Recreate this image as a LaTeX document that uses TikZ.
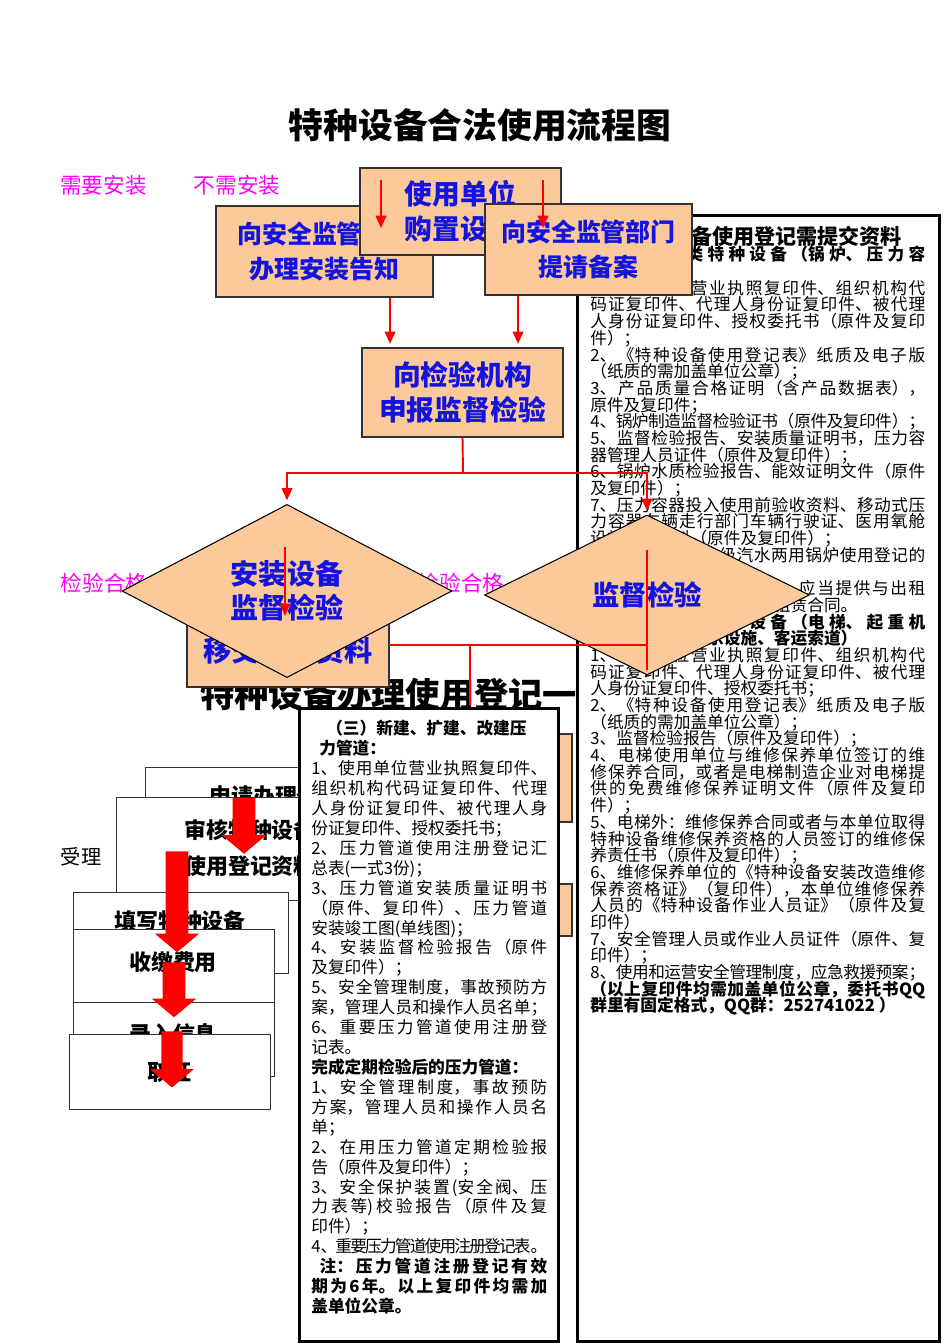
\documentclass[tikz,border=0pt]{standalone}
\usepackage{fontspec}
\setmainfont{Noto Sans CJK SC}
\usepackage{tikz}
\usetikzlibrary{shapes.geometric, shapes.arrows, arrows.meta, positioning}

\XeTeXlinebreaklocale "zh"
\XeTeXlinebreakskip=0pt plus 3pt minus 1.5pt

\definecolor{boxorange}{RGB}{252,202,154}
\definecolor{boxblue}{RGB}{20,20,225}
\definecolor{tagpink}{RGB}{255,0,255}
\definecolor{flowred}{RGB}{255,0,0}
\definecolor{edgegray}{RGB}{50,50,50}

% one line of a panel: justified, ragged, indented
\newcommand{\jl}[1]{{\parfillskip=0pt\noindent#1\par}}
\newcommand{\rl}[1]{{\noindent#1\par}}
\newcommand{\il}[2]{{\noindent\hskip#1#2\par}}
\newcommand{\panelsetup}{\tolerance=10000\hbadness=10000\parskip=0pt\lineskiplimit=-5pt}

\begin{document}
\begin{tikzpicture}[x=0.02cm, y=-0.02cm,
  flowbox/.style={rectangle, draw=edgegray, line width=0.7pt, fill=boxorange, text=boxblue,
    font=\fontsize{15.8}{19.8}\selectfont\bfseries, align=center, inner sep=0pt},
  decision/.style={diamond, draw=black, line width=0.6pt, fill=boxorange, text=boxblue,
    font=\fontsize{16}{19.3}\selectfont\bfseries, align=center, inner sep=0pt},
  tag/.style={text=tagpink, font=\fontsize{12.3}{14}\selectfont, inner sep=0pt},
  infopanel/.style={rectangle, draw=black, line width=1.7pt, fill=white, inner sep=0pt},
  paneltext/.style={anchor=north west, inner sep=0pt},
  stagebox/.style={rectangle, draw=edgegray, line width=0.7pt, fill=white, inner sep=0pt, anchor=north west},
  stagetext/.style={font=\fontsize{12.5}{21}\selectfont\bfseries, align=center, inner sep=0pt},
  flowline/.style={draw=flowred, line width=1.1pt},
  flowarrow/.style={flowline, -{Triangle[length=7pt,width=6pt]}},
  bigarrow/.style={single arrow, fill=flowred, draw=none, rotate=-90, inner xsep=0pt,
    inner ysep=0.22cm, minimum width=0.88cm, single arrow head extend=0.22cm,
    single arrow tip angle=100},
]
  \useasboundingbox (0,0) rectangle (950,1344);
  \fill[white] (0,0) rectangle (950,1344);

  % title
  \node[font=\fontsize{19.8}{24}\selectfont\bfseries, inner sep=0pt] (title) at (480,125) {特种设备合法使用流程图};

  % heading of the lower part (mostly covered)
  \node[font=\fontsize{19.5}{22}\selectfont\bfseries, inner sep=0pt, anchor=west] (lowhead) at (200,695) {特种设备办理使用登记一般流程};

  % right panel: documents to hand in
  \node[infopanel, minimum width=7.24cm, minimum height=22.52cm, anchor=north west] (checklist) at (576,214) {};
  \node[font=\fontsize{12}{12}\selectfont\bfseries, inner sep=0pt] (checktitle) at (765,236) {特种设备使用登记需提交资料};
  \node[paneltext] (checktext) at (590,246) {\vbox{\hsize=6.7cm
    \fontsize{9.5}{9.5}\selectfont\panelsetup
    \jl{\bfseries （一）承压类特种设备（锅炉、压力容}
    \rl{\bfseries 器）：}
    \jl{1、使用单位营业执照复印件、组织机构代}
    \jl{码证复印件、代理人身份证复印件、被代理}
    \jl{人身份证复印件、授权委托书（原件及复印}
    \rl{件）；}
    \jl{2、《特种设备使用登记表》纸质及电子版}
    \rl{（纸质的需加盖单位公章）；}
    \jl{3、产品质量合格证明（含产品数据表），}
    \rl{原件及复印件；}
    \jl{4、锅炉制造监督检验证书（原件及复印件）；}
    \jl{5、监督检验报告、安装质量证明书，压力容}
    \rl{器管理人员证件（原件及复印件）；}
    \jl{6、锅炉水质检验报告、能效证明文件（原件}
    \rl{及复印件）；}
    \jl{7、压力容器投入使用前验收资料、移动式压}
    \jl{力容器车辆走行部门车辆行驶证、医用氧舱}
    \rl{设施验收资料（原件及复印件）；}
    \jl{8、电站锅炉、一级汽水两用锅炉使用登记的}
    \rl{\strut}
    \jl{9、租赁使用的特种设备，应当提供与出租}
    \rl{单位或者个人签订的设备租赁合同。}
    \jl{\bfseries （二）机电类特种设备（电梯、起重机}
    \il{2em}{\bfseries 械、大型游乐设施、客运索道）}
    \jl{1、使用单位营业执照复印件、组织机构代}
    \jl{码证复印件、代理人身份证复印件、被代理}
    \rl{人身份证复印件、授权委托书；}
    \jl{2、《特种设备使用登记表》纸质及电子版}
    \rl{（纸质的需加盖单位公章）；}
    \rl{3、监督检验报告（原件及复印件）；}
    \jl{4、电梯使用单位与维修保养单位签订的维}
    \jl{修保养合同，或者是电梯制造企业对电梯提}
    \jl{供的免费维修保养证明文件（原件及复印}
    \rl{件）；}
    \jl{5、电梯外：维修保养合同或者与本单位取得}
    \jl{特种设备维修保养资格的人员签订的维修保}
    \rl{养责任书（原件及复印件）；}
    \jl{6、维修保养单位的《特种设备安装改造维修}
    \jl{保养资格证》（复印件），本单位维修保养}
    \jl{人员的《特种设备作业人员证》（原件及复}
    \rl{印件）}
    \jl{7、安全管理人员或作业人员证件（原件、复}
    \rl{印件）；}
    \jl{8、使用和运营安全管理制度，应急救援预案；}
    \jl{\bfseries （以上复印件均需加盖单位公章，委托书QQ}
    \rl{\bfseries 群里有固定格式，QQ群：252741022 ）}
  }};

  % upper flow
  \node[flowbox, font=\fontsize{14.2}{20}\selectfont\bfseries, minimum width=4.34cm, minimum height=1.82cm] (notice) at (324.5,251.5) {向安全监管部门\\办理安装告知};
  \node[flowbox, minimum width=4.02cm, minimum height=1.74cm] (buy) at (460.5,211.5) {使用单位\\购置设备};
  \node[flowbox, font=\fontsize{14.2}{20}\selectfont\bfseries, minimum width=4.14cm, minimum height=1.82cm] (filing) at (588.5,249.5) {向安全监管部门\\提请备案};
  \coordinate (buyL0) at (381,180);
  \coordinate (buyL1) at (381,228);
  \coordinate (buyR0) at (543,180);
  \coordinate (buyR1) at (543,228);
  \draw[flowarrow] (buyL0) -- (buyL1);
  \draw[flowarrow] (buyR0) -- (buyR1);

  \node[flowbox, minimum width=4.02cm, minimum height=1.78cm] (apply) at (462.5,392.5) {向检验机构\\申报监督检验};
  \coordinate (dropL) at (390,0);
  \coordinate (dropR) at (518,0);
  \draw[flowarrow] (notice.south -| dropL) -- ([yshift=2pt]apply.north -| dropL);
  \draw[flowarrow] (filing.south -| dropR) -- ([yshift=2pt]apply.north -| dropR);

  % tags
  \node[tag] (needtag) at (103.5,185) {需要安装};
  \node[tag] (noneedtag) at (237,185) {不需安装};
  \node[tag] (passL) at (104,583) {检验合格};
  \node[tag] (passR) at (461,583) {检验合格};

  % inspections
  \node[flowbox, font=\fontsize{16}{19}\selectfont\bfseries, minimum width=4.04cm, minimum height=1.44cm] (transfer) at (288,651) {移交技术资料};
  \node[decision, minimum width=6.6cm, minimum height=3.22cm] (installchk) at (287,591) {安装设备\\监督检验};
  \node[decision, font=\fontsize{15.6}{19}\selectfont\bfseries, minimum width=6.5cm, minimum height=3.2cm] (supchk) at (647,595) {监督检验};

  \coordinate (split) at (463,473);
  \draw[flowline] (apply.south) -- (split);
  \draw[flowarrow] (split) -| ([yshift=2pt]installchk.north);
  \draw[flowarrow] (split) -| ([yshift=2pt]supchk.north);
  \coordinate (inA0) at (285,547);
  \coordinate (inA1) at (285,616);
  \draw[flowarrow] (inA0) -- (inA1);
  \coordinate (inB0) at (647,550);
  \coordinate (inB1) at (647,670);
  \coordinate (hand) at (389,645);
  \coordinate (handB) at (647,645);
  \coordinate (down0) at (470,645);
  \coordinate (down1) at (470,706);
  \draw[flowline] (inB0) -- (inB1);
  \draw[flowline] (hand) -- (handB);
  \draw[flowline] (down0) -- (down1);

  % lower flow, stacked steps
  \node[rectangle, fill=boxorange, draw=edgegray, line width=0.7pt, minimum width=2.04cm, minimum height=1.76cm] (hidA) at (521,778) {};
  \node[rectangle, fill=boxorange, draw=edgegray, line width=0.7pt, minimum width=2.04cm, minimum height=1.04cm] (hidB) at (521,910) {};

  \node[stagebox, minimum width=5.2cm, minimum height=2.26cm] (stepA) at (145,767) {};
  \node[stagetext] (stepAtxt) at (275,796) {申请办理登记};
  \node[stagebox, minimum width=5.28cm, minimum height=2.06cm] (stepB) at (116,797) {};
  \node[stagetext] (stepBtxt) at (250,848) {审核特种设备\\使用登记资料};
  \node[stagebox, minimum width=4.3cm, minimum height=1.62cm] (stepC) at (73,892) {};
  \node[stagetext] (stepCtxt) at (180,921) {填写特种设备};
  \node[stagebox, minimum width=4.02cm, minimum height=1.46cm] (stepD) at (73,929) {};
  \node[stagetext] (stepDtxt) at (173,962) {收缴费用};
  \node[stagebox, minimum width=4.02cm, minimum height=1.48cm] (stepE) at (73,1002) {};
  \node[stagetext] (stepEtxt) at (173,1034) {录入信息};
  \node[stagebox, minimum width=4.02cm, minimum height=1.5cm] (stepF) at (69,1034) {};
  \node[stagetext] (stepFtxt) at (169,1072) {取证};

  \node[bigarrow, minimum height=1.12cm] (arrA) at (244,821) {};
  \node[bigarrow, minimum height=2.02cm] (arrB) at (177,897) {};
  \node[bigarrow, minimum height=1.1cm] (arrC) at (174,985) {};
  \node[bigarrow, minimum height=1.12cm, inner ysep=0.2cm] (arrD) at (172,1055) {};

  \node[font=\fontsize{11.5}{12}\selectfont, inner sep=0pt] (accept) at (81,857) {受理};

  % middle panel: pressure piping
  \node[infopanel, minimum width=5.18cm, minimum height=12.66cm, anchor=north west] (pipelist) at (298,707) {};
  \node[paneltext] (pipetext) at (311,720) {\vbox{\hsize=4.72cm
    \fontsize{9.5}{11.34}\selectfont\panelsetup
    \il{15\dimexpr0.5669pt\relax}{\bfseries （三）新建、扩建、改建压}
    \il{8\dimexpr0.5669pt\relax}{\bfseries 力管道：}
    \jl{1、使用单位营业执照复印件、}
    \jl{组织机构代码证复印件、代理}
    \jl{人身份证复印件、被代理人身}
    \rl{份证复印件、授权委托书；}
    \jl{2、压力管道使用注册登记汇}
    \rl{总表(一式3份)；}
    \jl{3、压力管道安装质量证明书}
    \jl{（原件、复印件）、压力管道}
    \rl{安装竣工图(单线图)；}
    \jl{4、安装监督检验报告（原件}
    \rl{及复印件）；}
    \jl{5、安全管理制度，事故预防方}
    \jl{案，管理人员和操作人员名单；}
    \jl{6、重要压力管道使用注册登}
    \rl{记表。}
    \rl{\bfseries 完成定期检验后的压力管道：}
    \jl{1、安全管理制度，事故预防}
    \jl{方案，管理人员和操作人员名}
    \rl{单；}
    \jl{2、在用压力管道定期检验报}
    \rl{告（原件及复印件）；}
    \jl{3、安全保护装置(安全阀、压}
    \jl{力表等)校验报告（原件及复}
    \rl{印件）；}
    \jl{4、重要压力管道使用注册登记表。}
    \jl{\bfseries\hskip0.5em 注：压力管道注册登记有效}
    \jl{\bfseries 期为6年。以上复印件均需加}
    \rl{\bfseries 盖单位公章。}
  }};
\end{tikzpicture}
\end{document}
